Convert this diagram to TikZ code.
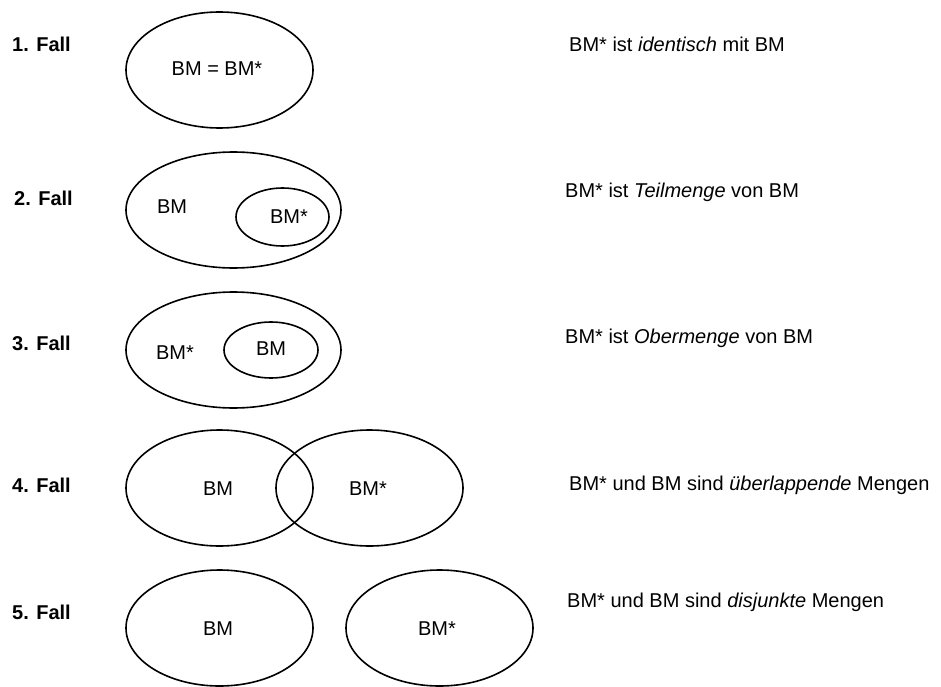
\documentclass[tikz,border=0pt]{standalone}
\usepackage{fontspec}
\setmainfont{Liberation Sans}
\usetikzlibrary{shapes.geometric}
\begin{document}
\begin{tikzpicture}[x=1pt,y=-1pt,
  setshape/.style={ellipse,draw,line width=1.6pt,inner sep=0pt},
  big/.style={setshape,minimum width=187pt,minimum height=116pt},
  wide/.style={setshape,minimum width=215pt,minimum height=116pt},
  lbl/.style={font=\fontsize{20}{24}\selectfont,inner sep=0pt,anchor=base},
  fall/.style={font=\fontsize{20}{24}\selectfont\bfseries,inner sep=0pt,anchor=base west},
  desc/.style={font=\fontsize{20}{24}\selectfont,inner sep=0pt,anchor=base west}]
\useasboundingbox (0,0) rectangle (941,687);
% 1. Fall
\node[fall] (f1) at (12,52) {1. Fall};
\node[big] (e1) at (219.5,70) {};
\node[lbl] (t1) at (217,76) {BM = BM*};
\node[desc] (d1) at (569,52) {BM* ist \textit{identisch} mit BM};
% 2. Fall
\node[fall] (f2) at (14,205) {2. Fall};
\node[wide] (e2) at (233.5,210) {};
\node[setshape,minimum width=93pt,minimum height=58pt] (e2i) at (282.5,217) {};
\node[lbl] (t2a) at (172,213) {BM};
\node[lbl] (t2b) at (289,223) {BM*};
\node[desc] (d2) at (565,197) {BM* ist \textit{Teilmenge} von BM};
% 3. Fall
\node[fall] (f3) at (12,350) {3. Fall};
\node[wide] (e3) at (233.5,350) {};
\node[setshape,minimum width=94pt,minimum height=56pt] (e3i) at (271,350) {};
\node[lbl] (t3a) at (175,359) {BM*};
\node[lbl] (t3b) at (271,355) {BM};
\node[desc] (d3) at (565,343) {BM* ist \textit{Obermenge} von BM};
% 4. Fall
\node[fall] (f4) at (12,492) {4. Fall};
\node[big] (e4a) at (219.5,488) {};
\node[big] (e4b) at (369.5,488) {};
\node[lbl] (t4a) at (218,495) {BM};
\node[lbl] (t4b) at (368,495) {BM*};
\node[desc] (d4) at (569,490) {BM* und BM sind \textit{überlappende} Mengen};
% 5. Fall
\node[fall] (f5) at (12,619) {5. Fall};
\node[big] (e5a) at (219.5,628) {};
\node[big] (e5b) at (439.5,628) {};
\node[lbl] (t5a) at (218,635) {BM};
\node[lbl] (t5b) at (437,635) {BM*};
\node[desc] (d5) at (567,607) {BM* und BM sind \textit{disjunkte} Mengen};
\end{tikzpicture}
\end{document}
